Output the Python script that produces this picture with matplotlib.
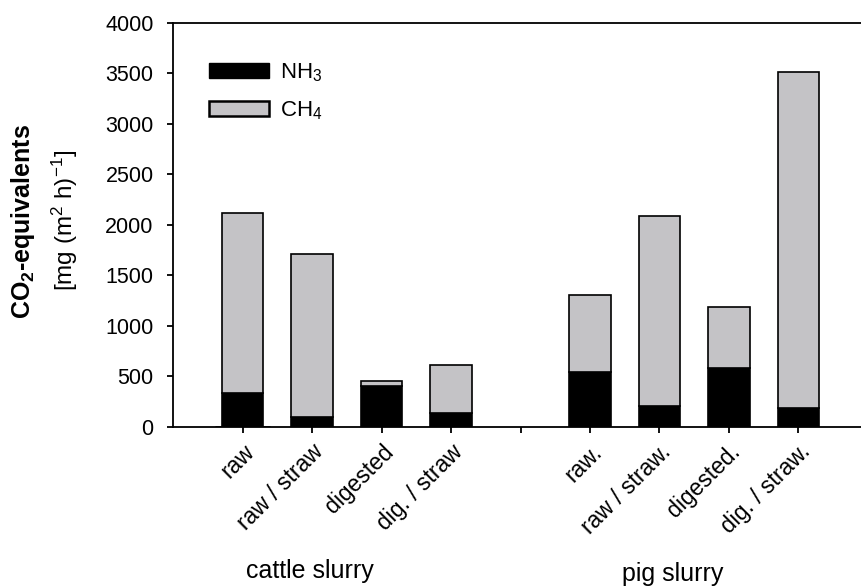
import numpy as np
import matplotlib
matplotlib.use('Agg')
import matplotlib.pyplot as plt

plt.rcParams['font.family'] = ['Liberation Sans', 'DejaVu Sans']
plt.rcParams['mathtext.fontset'] = 'custom'
plt.rcParams['mathtext.rm'] = 'Liberation Sans'
plt.rcParams['mathtext.it'] = 'Liberation Sans:italic'
plt.rcParams['mathtext.bf'] = 'Liberation Sans:bold'

# --- data ---
labels = ['raw', 'raw / straw', 'digested', 'dig. / straw', '',
          'raw.', 'raw / straw.', 'digested.', 'dig. / straw.']
cattle_nh3 = [340, 95, 400, 135]
cattle_ch4 = [1780, 1615, 50, 475]
pig_nh3 = [540, 205, 580, 185]
pig_ch4 = [770, 1880, 610, 3325]
groups = ['cattle slurry', 'pig slurry']

gray = '#c4c3c6'

fig = plt.figure(figsize=(8.61, 5.88), dpi=100)
ax = fig.add_axes([0.201, 0.274, 0.799, 0.687])

x_cattle = np.arange(4)
x_pig = np.arange(5, 9)
w = 0.6

for xs, nh3, ch4 in [(x_cattle, cattle_nh3, cattle_ch4), (x_pig, pig_nh3, pig_ch4)]:
    ax.bar(xs, nh3, w, color='black', edgecolor='black', linewidth=1.2)
    ax.bar(xs, ch4, w, bottom=nh3, color=gray, edgecolor='black', linewidth=1.2)

# legend patches
h1 = ax.bar([0], [0], color='black', edgecolor='black', label='NH$_3$')
h2 = ax.bar([0], [0], color=gray, edgecolor='black', linewidth=1.8, label='CH$_4$')
leg = ax.legend(handles=[h1, h2], loc='upper left', bbox_to_anchor=(0.023, 0.955),
                frameon=False, fontsize=16, handlelength=2.7, handleheight=0.63,
                labelspacing=0.7, handletextpad=0.5)

ax.set_xlim(-1, 8.9)
ax.set_ylim(0, 4000)
ax.set_yticks(np.arange(0, 4001, 500))
ax.set_xticks(np.arange(9))
ax.set_xticklabels(labels, rotation=45, ha='right', rotation_mode='anchor', fontsize=16.5)
ax.tick_params(axis='y', direction='out', length=4, width=1.3, labelsize=15.5, pad=10)
ax.tick_params(axis='x', direction='out', length=4.5, width=1.3, pad=5)
ax.spines['right'].set_visible(False)
for s in ['left', 'bottom', 'top']:
    ax.spines[s].set_linewidth(1.3)

fig.text(0.027, 0.623, 'CO$_\\mathbf{2}$-equivalents', rotation=90, ha='center', va='center',
         fontsize=18, fontweight='bold')
fig.text(0.0755, 0.625, '[mg (m$^2$ h)$^{-1}$]', rotation=90, ha='center', va='center',
         fontsize=17.5)

fig.text(310 / 861, 1 - 571 / 588, groups[0], ha='center', va='center', fontsize=18)
fig.text(673 / 861, 1 - 574 / 588, groups[1], ha='center', va='center', fontsize=18)

fig.savefig('out.png', dpi=100)
